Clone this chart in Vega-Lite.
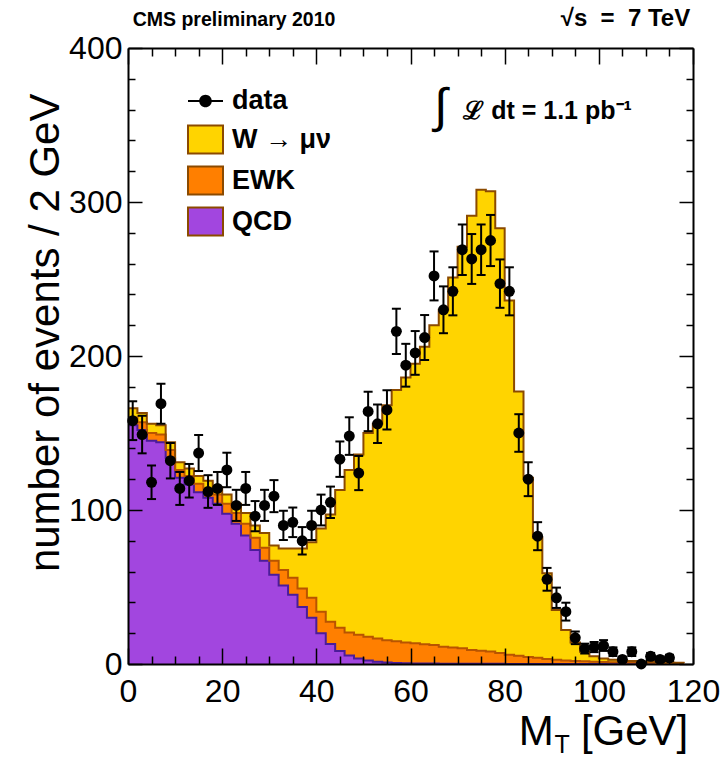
{
  "$schema": "https://vega.github.io/schema/vega-lite/v6.json",
  "width": 565,
  "height": 616,
  "autosize": {"type": "none"},
  "padding": {"left": 128, "top": 48, "right": 29, "bottom": 93},
  "background": "white",
  "config": {"font": "Liberation Sans", "view": {"stroke": null}},
  "datasets": {
    "mc": [
      {"lo": 0, "QCD": 155, "EWK": 5, "W": 6},
      {"lo": 2, "QCD": 152, "EWK": 5, "W": 6},
      {"lo": 4, "QCD": 145, "EWK": 5, "W": 6},
      {"lo": 6, "QCD": 144, "EWK": 5, "W": 6},
      {"lo": 8, "QCD": 134, "EWK": 5, "W": 5},
      {"lo": 10, "QCD": 121, "EWK": 5, "W": 5},
      {"lo": 12, "QCD": 116.5, "EWK": 5.5, "W": 5},
      {"lo": 14, "QCD": 111.5, "EWK": 5.5, "W": 5},
      {"lo": 16, "QCD": 108, "EWK": 6, "W": 5},
      {"lo": 18, "QCD": 104, "EWK": 6, "W": 5},
      {"lo": 20, "QCD": 97.5, "EWK": 6.5, "W": 6},
      {"lo": 22, "QCD": 91, "EWK": 7, "W": 6},
      {"lo": 24, "QCD": 83.5, "EWK": 7.5, "W": 7},
      {"lo": 26, "QCD": 74, "EWK": 8, "W": 8},
      {"lo": 28, "QCD": 67, "EWK": 8.5, "W": 9.5},
      {"lo": 30, "QCD": 58, "EWK": 9, "W": 10},
      {"lo": 32, "QCD": 51, "EWK": 10, "W": 14},
      {"lo": 34, "QCD": 45, "EWK": 11, "W": 19},
      {"lo": 36, "QCD": 37, "EWK": 12, "W": 26},
      {"lo": 38, "QCD": 30, "EWK": 13, "W": 36},
      {"lo": 40, "QCD": 20, "EWK": 14, "W": 54},
      {"lo": 42, "QCD": 13, "EWK": 14.5, "W": 69.5},
      {"lo": 44, "QCD": 8.5, "EWK": 15, "W": 89.5},
      {"lo": 46, "QCD": 5.5, "EWK": 15, "W": 105.5},
      {"lo": 48, "QCD": 3.5, "EWK": 15.5, "W": 117},
      {"lo": 50, "QCD": 2.2, "EWK": 15.5, "W": 132.3},
      {"lo": 52, "QCD": 1.5, "EWK": 15, "W": 139.5},
      {"lo": 54, "QCD": 1, "EWK": 14.5, "W": 152.5},
      {"lo": 56, "QCD": 0.7, "EWK": 14, "W": 163.3},
      {"lo": 58, "QCD": 0.5, "EWK": 13.5, "W": 172},
      {"lo": 60, "QCD": 0.4, "EWK": 13, "W": 181.6},
      {"lo": 62, "QCD": 0.3, "EWK": 12.5, "W": 193.2},
      {"lo": 64, "QCD": 0.3, "EWK": 12, "W": 207.7},
      {"lo": 66, "QCD": 0.2, "EWK": 11, "W": 218.8},
      {"lo": 68, "QCD": 0.2, "EWK": 10.5, "W": 240.3},
      {"lo": 70, "QCD": 0.2, "EWK": 10, "W": 260.8},
      {"lo": 72, "QCD": 0.1, "EWK": 9, "W": 281.9},
      {"lo": 74, "QCD": 0.1, "EWK": 8.5, "W": 299.4},
      {"lo": 76, "QCD": 0.1, "EWK": 8, "W": 298.9},
      {"lo": 78, "QCD": 0.1, "EWK": 7, "W": 275.9},
      {"lo": 80, "QCD": 0, "EWK": 6, "W": 230},
      {"lo": 82, "QCD": 0, "EWK": 5.3, "W": 171.7},
      {"lo": 84, "QCD": 0, "EWK": 4.6, "W": 116.4},
      {"lo": 86, "QCD": 0, "EWK": 4, "W": 78},
      {"lo": 88, "QCD": 0, "EWK": 3.3, "W": 55.7},
      {"lo": 90, "QCD": 0, "EWK": 2.7, "W": 32.3},
      {"lo": 92, "QCD": 0, "EWK": 2.3, "W": 19.7},
      {"lo": 94, "QCD": 0, "EWK": 2, "W": 12},
      {"lo": 96, "QCD": 0, "EWK": 1.8, "W": 6.2},
      {"lo": 98, "QCD": 0, "EWK": 1.5, "W": 3.5},
      {"lo": 100, "QCD": 0, "EWK": 1.3, "W": 2.2},
      {"lo": 102, "QCD": 0, "EWK": 1.2, "W": 1.6},
      {"lo": 104, "QCD": 0, "EWK": 1.1, "W": 1.3},
      {"lo": 106, "QCD": 0, "EWK": 1, "W": 1},
      {"lo": 108, "QCD": 0, "EWK": 0.9, "W": 0.8},
      {"lo": 110, "QCD": 0, "EWK": 0.8, "W": 0.6},
      {"lo": 112, "QCD": 0, "EWK": 0.7, "W": 0.5},
      {"lo": 114, "QCD": 0, "EWK": 0.6, "W": 0.4},
      {"lo": 116, "QCD": 0, "EWK": 0.5, "W": 0.3},
      {"lo": 118, "QCD": 0, "EWK": 0.4, "W": 0.3}
    ],
    "obs": [
      {"x": 1, "n": 158, "elo": 145.4, "ehi": 170.6},
      {"x": 3, "n": 149, "elo": 136.8, "ehi": 161.2},
      {"x": 5, "n": 118, "elo": 107.1, "ehi": 128.9},
      {"x": 7, "n": 169, "elo": 156, "ehi": 182},
      {"x": 9, "n": 132, "elo": 120.5, "ehi": 143.5},
      {"x": 11, "n": 114, "elo": 103.3, "ehi": 124.7},
      {"x": 13, "n": 119, "elo": 108.1, "ehi": 129.9},
      {"x": 15, "n": 137, "elo": 125.3, "ehi": 148.7},
      {"x": 17, "n": 112, "elo": 101.4, "ehi": 122.6},
      {"x": 19, "n": 114, "elo": 103.3, "ehi": 124.7},
      {"x": 21, "n": 126, "elo": 114.8, "ehi": 137.2},
      {"x": 23, "n": 103, "elo": 92.9, "ehi": 113.1},
      {"x": 25, "n": 114, "elo": 103.3, "ehi": 124.7},
      {"x": 27, "n": 96, "elo": 86.2, "ehi": 105.8},
      {"x": 29, "n": 103, "elo": 92.9, "ehi": 113.1},
      {"x": 31, "n": 109, "elo": 98.6, "ehi": 119.4},
      {"x": 33, "n": 90, "elo": 80.5, "ehi": 99.5},
      {"x": 35, "n": 92, "elo": 82.4, "ehi": 101.6},
      {"x": 37, "n": 80, "elo": 71.1, "ehi": 88.9},
      {"x": 39, "n": 90, "elo": 80.5, "ehi": 99.5},
      {"x": 41, "n": 100, "elo": 90, "ehi": 110},
      {"x": 43, "n": 105, "elo": 94.8, "ehi": 115.2},
      {"x": 45, "n": 133, "elo": 121.5, "ehi": 144.5},
      {"x": 47, "n": 148, "elo": 135.8, "ehi": 160.2},
      {"x": 49, "n": 124, "elo": 112.9, "ehi": 135.1},
      {"x": 51, "n": 164, "elo": 151.2, "ehi": 176.8},
      {"x": 53, "n": 156, "elo": 143.5, "ehi": 168.5},
      {"x": 55, "n": 165, "elo": 152.2, "ehi": 177.8},
      {"x": 57, "n": 216, "elo": 201.3, "ehi": 230.7},
      {"x": 59, "n": 194, "elo": 180.1, "ehi": 207.9},
      {"x": 61, "n": 202, "elo": 187.8, "ehi": 216.2},
      {"x": 63, "n": 212, "elo": 197.4, "ehi": 226.6},
      {"x": 65, "n": 252, "elo": 236.1, "ehi": 267.9},
      {"x": 67, "n": 230, "elo": 214.8, "ehi": 245.2},
      {"x": 69, "n": 242, "elo": 226.4, "ehi": 257.6},
      {"x": 71, "n": 269, "elo": 252.6, "ehi": 285.4},
      {"x": 73, "n": 263, "elo": 246.8, "ehi": 279.2},
      {"x": 75, "n": 269, "elo": 252.6, "ehi": 285.4},
      {"x": 77, "n": 275, "elo": 258.4, "ehi": 291.6},
      {"x": 79, "n": 247, "elo": 231.3, "ehi": 262.7},
      {"x": 81, "n": 242, "elo": 226.4, "ehi": 257.6},
      {"x": 83, "n": 150, "elo": 137.8, "ehi": 162.2},
      {"x": 85, "n": 120, "elo": 109, "ehi": 131},
      {"x": 87, "n": 83, "elo": 73.9, "ehi": 92.1},
      {"x": 89, "n": 55, "elo": 47.6, "ehi": 62.4},
      {"x": 91, "n": 43, "elo": 36.4, "ehi": 49.6},
      {"x": 93, "n": 34, "elo": 28.2, "ehi": 39.8},
      {"x": 95, "n": 17, "elo": 12.9, "ehi": 21.1},
      {"x": 97, "n": 10, "elo": 6.8, "ehi": 13.2},
      {"x": 99, "n": 11, "elo": 7.7, "ehi": 14.3},
      {"x": 101, "n": 12, "elo": 8.5, "ehi": 15.5},
      {"x": 103, "n": 8, "elo": 5.2, "ehi": 10.8},
      {"x": 105, "n": 3, "elo": 1.3, "ehi": 4.7},
      {"x": 107, "n": 8, "elo": 5.2, "ehi": 10.8},
      {"x": 109, "n": 0, "elo": 0, "ehi": 0},
      {"x": 111, "n": 5, "elo": 2.8, "ehi": 7.2},
      {"x": 113, "n": 3, "elo": 1.3, "ehi": 4.7},
      {"x": 115, "n": 4, "elo": 2, "ehi": 6}
    ]
  },
  "resolve": {"axis": {"x": "independent", "y": "independent"}},
  "layer": [
    {
      "data": {"name": "mc"},
      "transform": [
        {"fold": ["QCD", "EWK", "W"], "as": ["c", "n"]},
        {"stack": "n", "groupby": ["lo"], "as": ["y0", "y1"]}
      ],
      "mark": {"type": "area", "interpolate": "step-after", "opacity": 1},
      "encoding": {
        "x": {
          "field": "lo", "type": "quantitative",
          "scale": {"domain": [0, 120], "nice": false, "zero": false},
          "axis": {
            "orient": "bottom", "zindex": 1,
            "values": [0, 5, 10, 15, 20, 25, 30, 35, 40, 45, 50, 55, 60, 65, 70, 75, 80, 85, 90, 95, 100, 105, 110, 115, 120],
            "labelExpr": "datum.value % 20 === 0 ? datum.label : ''",
            "tickSize": {"condition": {"test": "datum.value % 20 === 0", "value": -16}, "value": -8},
            "tickColor": "black", "tickWidth": 1.5,
            "domainColor": "black", "domainWidth": 2,
            "labelFontSize": 32, "labelColor": "black", "labelPadding": 28,
            "labelFlush": false, "labelOverlap": false, "grid": false, "title": null, "format": "d"
          }
        },
        "y": {
          "field": "y1", "type": "quantitative", "stack": null,
          "scale": {"domain": [0, 400], "nice": false},
          "axis": {
            "orient": "left", "zindex": 1,
            "values": [0, 20, 40, 60, 80, 100, 120, 140, 160, 180, 200, 220, 240, 260, 280, 300, 320, 340, 360, 380, 400],
            "labelExpr": "datum.value % 100 === 0 ? datum.label : ''",
            "tickSize": {"condition": {"test": "datum.value % 100 === 0", "value": -14}, "value": -7},
            "tickColor": "black", "tickWidth": 1.5,
            "domainColor": "black", "domainWidth": 2,
            "labelFontSize": 32, "labelColor": "black", "labelPadding": 20,
            "labelFlush": false, "labelOverlap": false, "grid": false, "format": "d",
            "title": "number of events / 2 GeV",
            "titleFontSize": 42, "titleFontWeight": "normal", "titleColor": "black",
            "titleAngle": 270, "titleAlign": "right", "titleBaseline": "alphabetic",
            "titleX": -70, "titleY": 45
          }
        },
        "y2": {"field": "y0"},
        "color": {
          "field": "c", "type": "nominal",
          "scale": {"domain": ["W", "EWK", "QCD"], "range": ["#FFD400", "#FF7F00", "#A246DF"]},
          "legend": {
            "orient": "none", "legendX": 59, "legendY": 73, "direction": "vertical",
            "title": null, "padding": 0,
            "labelFontSize": 27, "labelFontWeight": "bold", "labelColor": "black",
            "labelOffset": 8, "symbolSize": 1225, "rowPadding": 4,
            "symbolType": "M-1,-0.8H1V0.8H-1Z",
            "symbolStrokeColor": "#8B4A00", "symbolStrokeWidth": 2, "symbolOpacity": 1,
            "labelExpr": "datum.label === 'W' ? 'W → μν' : datum.label"
          }
        }
      }
    },
    {
      "data": {"name": "mc"},
      "transform": [
        {"fold": ["QCD", "EWK", "W"], "as": ["c", "n"]},
        {"stack": "n", "groupby": ["lo"], "as": ["y0", "y1"]}
      ],
      "mark": {"type": "line", "interpolate": "step-after", "strokeWidth": 2},
      "encoding": {
        "x": {
          "field": "lo", "type": "quantitative",
          "axis": {
            "orient": "top", "zindex": 1,
            "values": [0, 5, 10, 15, 20, 25, 30, 35, 40, 45, 50, 55, 60, 65, 70, 75, 80, 85, 90, 95, 100, 105, 110, 115, 120],
            "labels": false,
            "tickSize": {"condition": {"test": "datum.value % 20 === 0", "value": -16}, "value": -8},
            "tickColor": "black", "tickWidth": 1.5,
            "domainColor": "black", "domainWidth": 2, "grid": false, "title": null
          }
        },
        "y": {
          "field": "y1", "type": "quantitative",
          "axis": {
            "orient": "right", "zindex": 1,
            "values": [0, 20, 40, 60, 80, 100, 120, 140, 160, 180, 200, 220, 240, 260, 280, 300, 320, 340, 360, 380, 400],
            "labels": false,
            "tickSize": {"condition": {"test": "datum.value % 100 === 0", "value": -14}, "value": -7},
            "tickColor": "black", "tickWidth": 1.5,
            "domainColor": "black", "domainWidth": 2, "grid": false, "title": null
          }
        },
        "stroke": {
          "field": "c", "type": "nominal",
          "scale": {"domain": ["QCD", "EWK", "W"], "range": ["#4B1C9A", "#B85400", "#8B4A00"]},
          "legend": null
        }
      }
    },
    {
      "data": {"values": [{"k": "data"}]},
      "mark": {"type": "point", "filled": true, "opacity": 0, "color": "black"},
      "encoding": {
        "x": {"datum": 0, "type": "quantitative", "axis": null},
        "y": {"datum": 0, "type": "quantitative", "axis": null},
        "shape": {
          "field": "k", "type": "nominal",
          "scale": {"domain": ["data"], "range": ["M-1,-0.06H1V0.06H-1ZM0.36,0A0.36,0.36,0,1,1,-0.36,0A0.36,0.36,0,1,1,0.36,0Z"]},
          "legend": {
            "orient": "none", "legendX": 59, "legendY": 34.5, "direction": "vertical",
            "title": null, "padding": 0,
            "labelFontSize": 27, "labelFontWeight": "bold", "labelColor": "black",
            "labelOffset": 8, "symbolSize": 1225,
            "symbolFillColor": "black", "symbolOpacity": 1
          }
        }
      }
    },
    {
      "data": {"name": "obs"},
      "mark": {"type": "rule", "strokeWidth": 2, "color": "black"},
      "encoding": {
        "x": {"field": "x", "type": "quantitative", "axis": null},
        "y": {"field": "elo", "type": "quantitative", "axis": null},
        "y2": {"field": "ehi"}
      }
    },
    {
      "data": {"name": "obs"},
      "mark": {"type": "tick", "orient": "horizontal", "size": 9, "thickness": 2, "color": "black", "opacity": 1},
      "encoding": {
        "x": {"field": "x", "type": "quantitative", "axis": null},
        "y": {"field": "elo", "type": "quantitative", "axis": null}
      }
    },
    {
      "data": {"name": "obs"},
      "mark": {"type": "tick", "orient": "horizontal", "size": 9, "thickness": 2, "color": "black", "opacity": 1},
      "encoding": {
        "x": {"field": "x", "type": "quantitative", "axis": null},
        "y": {"field": "ehi", "type": "quantitative", "axis": null}
      }
    },
    {
      "data": {"name": "obs"},
      "mark": {"type": "circle", "size": 120, "color": "black", "opacity": 1},
      "encoding": {
        "x": {"field": "x", "type": "quantitative", "axis": null},
        "y": {"field": "n", "type": "quantitative", "axis": null}
      }
    },
    {
      "data": {"values": [{}]},
      "mark": {"type": "text", "align": "left", "baseline": "alphabetic", "fontSize": 19.5, "fontWeight": "bold", "color": "black"},
      "encoding": {
        "x": {"datum": 1.0, "type": "quantitative", "axis": null},
        "y": {"datum": 414, "type": "quantitative", "axis": null},
        "text": {"value": "CMS preliminary 2010"}
      }
    },
    {
      "data": {"values": [{}]},
      "mark": {"type": "text", "align": "right", "baseline": "alphabetic", "fontSize": 24, "fontWeight": "bold", "color": "black"},
      "encoding": {
        "x": {"datum": 119.4, "type": "quantitative", "axis": null},
        "y": {"datum": 414, "type": "quantitative", "axis": null},
        "text": {"value": "√s\u00a0\u00a0=\u00a0\u00a07\u00a0TeV"}
      }
    },
    {
      "data": {"values": [{}]},
      "mark": {"type": "text", "align": "center", "baseline": "middle", "fontSize": 48, "color": "black"},
      "encoding": {
        "x": {"datum": 66.4, "type": "quantitative", "axis": null},
        "y": {"datum": 361, "type": "quantitative", "axis": null},
        "text": {"value": "∫"}
      }
    },
    {
      "data": {"values": [{}]},
      "mark": {"type": "text", "align": "left", "baseline": "alphabetic", "fontSize": 25, "fontWeight": "bold", "color": "black"},
      "encoding": {
        "x": {"datum": 71.2, "type": "quantitative", "axis": null},
        "y": {"datum": 353.7, "type": "quantitative", "axis": null},
        "text": {"value": "ℒ dt = 1.1 pb⁻¹"}
      }
    },
    {
      "data": {"values": [{}]},
      "mark": {"type": "text", "align": "left", "baseline": "alphabetic", "fontSize": 42, "color": "black"},
      "encoding": {
        "x": {"datum": 83, "type": "quantitative", "axis": null},
        "y": {"datum": -52.6, "type": "quantitative", "axis": null},
        "text": {"value": "M"}
      }
    },
    {
      "data": {"values": [{}]},
      "mark": {"type": "text", "align": "left", "baseline": "alphabetic", "fontSize": 25, "color": "black"},
      "encoding": {
        "x": {"datum": 90.6, "type": "quantitative", "axis": null},
        "y": {"datum": -57.5, "type": "quantitative", "axis": null},
        "text": {"value": "T"}
      }
    },
    {
      "data": {"values": [{}]},
      "mark": {"type": "text", "align": "right", "baseline": "alphabetic", "fontSize": 42, "color": "black"},
      "encoding": {
        "x": {"datum": 119, "type": "quantitative", "axis": null},
        "y": {"datum": -52.6, "type": "quantitative", "axis": null},
        "text": {"value": "[GeV]"}
      }
    }
  ]
}
